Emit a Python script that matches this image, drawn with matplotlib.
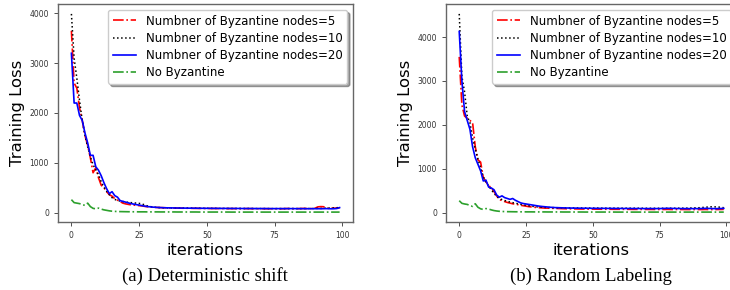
import matplotlib
matplotlib.use("Agg")
import matplotlib.pyplot as plt
import numpy as np

iterations = list(range(100))

# (a) Deterministic shift
a_byz5 = [3650, 2600, 2500, 2100, 1850, 1550, 1350, 1100, 800, 900, 700, 550, 500, 420, 360, 330, 280, 250, 220, 190,
          175, 165, 155, 150, 145, 140, 135, 125, 118, 112, 108, 105, 102, 100, 98, 96, 95, 93, 92, 90,
          89, 88, 88, 87, 86, 85, 85, 84, 84, 83, 83, 82, 82, 82, 81, 81, 81, 80, 80, 80,
          80, 79, 79, 79, 79, 80, 79, 78, 78, 78, 78, 78, 77, 78, 77, 77, 77, 78, 77, 80,
          82, 80, 78, 79, 80, 82, 84, 80, 79, 85, 90, 115, 120, 118, 95, 85, 90, 88, 92, 95]
a_byz10 = [3990, 3100, 2700, 2250, 1850, 1550, 1320, 1120, 960, 860, 760, 620, 510, 430, 360, 300, 265, 245, 232, 222,
           212, 205, 200, 195, 190, 185, 175, 155, 135, 122, 112, 106, 102, 99, 97, 95, 94, 93, 92, 91,
           90, 90, 89, 89, 88, 88, 87, 87, 86, 86, 86, 85, 85, 85, 84, 84, 84, 84, 83, 83,
           83, 83, 83, 82, 82, 82, 82, 82, 81, 81, 81, 81, 81, 80, 80, 80, 80, 80, 80, 80,
           80, 80, 81, 80, 80, 80, 81, 81, 82, 82, 83, 85, 84, 86, 88, 90, 92, 95, 98, 100]
a_byz20 = [3200, 2200, 2200, 1950, 1850, 1600, 1400, 1150, 1150, 920, 850, 740, 600, 480, 380, 420, 340, 310, 240, 225,
           210, 195, 180, 170, 160, 150, 140, 130, 122, 116, 110, 106, 103, 100, 98, 96, 95, 94, 93, 92,
           91, 90, 90, 89, 89, 88, 88, 87, 87, 86, 86, 86, 85, 85, 85, 84, 84, 84, 84, 83,
           83, 83, 83, 82, 82, 82, 82, 82, 81, 81, 81, 81, 81, 80, 80, 80, 80, 80, 80, 80,
           80, 80, 80, 79, 79, 79, 79, 78, 78, 78, 78, 78, 77, 78, 80, 78, 76, 78, 82, 100]
a_nobyz = [260, 200, 190, 180, 160, 145, 190, 120, 85, 75, 90, 70, 55, 45, 35, 28, 24, 22, 20, 19,
           18, 17, 17, 16, 16, 15, 15, 15, 14, 14, 14, 14, 14, 13, 13, 13, 13, 13, 13, 12,
           12, 12, 12, 12, 12, 12, 12, 11, 11, 11, 11, 11, 11, 11, 11, 11, 11, 11, 11, 10,
           10, 10, 10, 10, 10, 10, 10, 10, 10, 10, 10, 10, 10, 10, 10, 10, 10, 10, 10, 10,
           10, 10, 10, 10, 10, 10, 10, 10, 10, 10, 10, 10, 10, 10, 10, 10, 10, 10, 10, 10]

# (b) Random Labeling
b_byz5 = [3550, 2450, 2200, 2150, 2100, 2050, 1500, 1200, 1150, 800, 700, 620, 560, 480, 380, 300, 270, 250, 230, 215,
          200, 190, 180, 165, 155, 145, 135, 128, 120, 115, 110, 106, 102, 100, 98, 96, 94, 92, 90, 88,
          86, 85, 84, 83, 82, 81, 80, 80, 79, 78, 78, 77, 77, 76, 76, 75, 75, 75, 74, 74,
          74, 73, 73, 73, 73, 72, 72, 72, 72, 71, 71, 71, 71, 70, 70, 70, 70, 70, 72, 70,
          69, 69, 70, 69, 69, 68, 68, 68, 68, 68, 68, 68, 70, 68, 68, 68, 68, 70, 70, 72]
b_byz10 = [4530, 3100, 2750, 2200, 2050, 1700, 1450, 1220, 1020, 820, 690, 610, 520, 440, 370, 320, 295, 275, 255, 240,
           225, 212, 200, 185, 175, 165, 155, 145, 138, 130, 125, 120, 117, 115, 113, 112, 110, 109, 108, 107,
           106, 105, 105, 104, 104, 103, 103, 102, 102, 102, 101, 101, 101, 100, 100, 100, 100, 100, 99, 99,
           99, 99, 99, 98, 98, 98, 98, 98, 98, 98, 97, 97, 97, 97, 97, 97, 97, 97, 97, 98,
           98, 98, 99, 99, 100, 100, 102, 104, 106, 108, 110, 115, 120, 125, 130, 132, 128, 125, 118, 110]
b_byz20 = [4130, 3000, 2300, 2100, 1900, 1500, 1250, 1100, 950, 720, 740, 580, 560, 520, 400, 350, 380, 340, 320, 300,
           320, 280, 250, 220, 205, 195, 185, 175, 165, 155, 145, 138, 132, 126, 120, 116, 112, 110, 108, 106,
           104, 103, 102, 101, 100, 99, 98, 98, 97, 97, 96, 96, 95, 95, 95, 94, 94, 94, 93, 93,
           93, 92, 92, 92, 92, 91, 91, 91, 91, 90, 90, 90, 90, 90, 90, 90, 92, 94, 96, 95,
           93, 92, 91, 90, 90, 90, 89, 89, 89, 89, 90, 92, 95, 94, 92, 90, 88, 90, 92, 95]
b_nobyz = [270, 210, 195, 185, 160, 140, 200, 120, 85, 70, 90, 80, 60, 45, 35, 28, 24, 22, 20, 19,
           18, 17, 17, 16, 16, 15, 15, 15, 14, 14, 14, 14, 14, 13, 13, 13, 13, 13, 13, 12,
           12, 12, 12, 12, 12, 12, 12, 11, 11, 11, 11, 11, 11, 11, 11, 11, 11, 11, 11, 10,
           10, 10, 10, 10, 10, 10, 10, 10, 10, 10, 10, 10, 10, 10, 10, 10, 10, 10, 10, 10,
           10, 10, 10, 10, 10, 10, 10, 10, 10, 10, 10, 10, 10, 10, 10, 10, 10, 10, 10, 10]

labels = ["Numbner of Byzantine nodes=5", "Numbner of Byzantine nodes=10",
          "Numbner of Byzantine nodes=20", "No Byzantine"]
captions = ["(a) Deterministic shift", "(b) Random Labeling"]
xticks = [0, 25, 50, 75, 100]
yticks = [0, 1000, 2000, 3000, 4000]

fig = plt.figure(figsize=(7.3, 2.9), dpi=100)
ax1 = fig.add_axes([58/730, 68/290, 295/730, 218/290])
ax2 = fig.add_axes([446/730, 68/290, 291/730, 218/290])

datasets = [(ax1, a_byz5, a_byz10, a_byz20, a_nobyz), (ax2, b_byz5, b_byz10, b_byz20, b_nobyz)]
for ax, s5, s10, s20, s0 in datasets:
    ax.plot(iterations, s5, color='red', linestyle='-.', lw=1.2, label=labels[0])
    ax.plot(iterations, s10, color='black', linestyle=':', lw=1.1, label=labels[1])
    ax.plot(iterations, s20, color='blue', linestyle='-', lw=1.2, label=labels[2])
    ax.plot(iterations, s0, color='#2ca02c', linestyle='-.', lw=1.2, label=labels[3])
    ax.set_xticks(xticks)
    ax.set_yticks(yticks)
    ax.tick_params(labelsize=5.5, colors='#333333', length=3, width=0.6)
    for sp in ax.spines.values():
        sp.set_color('#666666')
        sp.set_linewidth(1.0)
    ax.set_xlabel('iterations', fontsize=11.7, labelpad=2)
    ax.set_ylabel('Training Loss', fontsize=11.8, labelpad=3)
    ax.legend(loc='upper right', fontsize=8.5, shadow=True, handlelength=2.0,
              labelspacing=0.35, borderpad=0.4)

fig.text(205/730, 1 - 276/290, captions[0], family='Liberation Serif', fontsize=13.5, ha='center', va='center')
fig.text(591/730, 1 - 276/290, captions[1], family='Liberation Serif', fontsize=13.5, ha='center', va='center')

fig.savefig('out.png', dpi=100)
